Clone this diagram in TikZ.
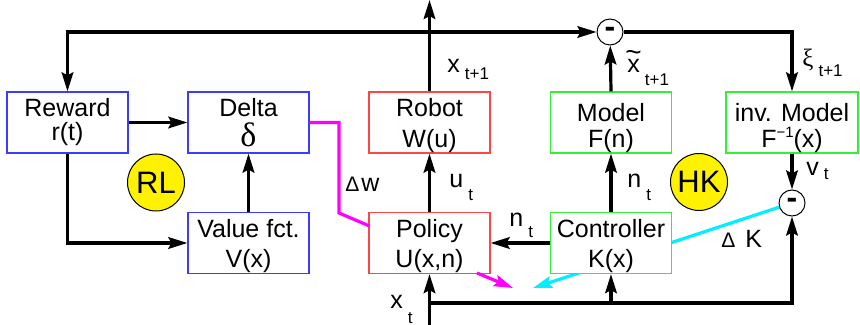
\documentclass[tikz,border=0pt]{standalone}
\usepackage{fontspec}
\setmainfont{Liberation Sans}
\newfontfamily\grk{Liberation Serif}
\usetikzlibrary{arrows.meta,backgrounds}
\definecolor{bxblue}{RGB}{60,60,255}
\definecolor{bxred}{RGB}{255,70,70}
\definecolor{bxgreen}{RGB}{50,240,50}
\definecolor{mag}{RGB}{255,0,255}
\definecolor{cya}{RGB}{0,240,255}
\newcommand\bt[4]{\vbox to 30.5pt{\offinterlineskip\halign{\hfil##\hfil\cr\rule{0pt}{#1}\smash{#3}\cr\rule{0pt}{\dimexpr#2-#1\relax}\smash{#4}\cr}\vss}}
\newcommand\sbs[2]{\hspace{2.5pt}\raisebox{-#1}{\fontsize{8.5}{8.5}\selectfont #2}}
\newcommand\smallD{{\fontsize{10.5}{10.5}\selectfont Δ}}
\newcommand\tildex{{\ooalign{x\cr\hidewidth\raisebox{5.5pt}{\fontsize{14}{14}\selectfont\~{}}\hidewidth\cr}}}
\tikzset{
 box/.style={draw, line width=0.6pt, fill=white, minimum width=60.5pt, minimum height=30.5pt, inner sep=0pt, font=\fontsize{12.5}{12.5}\selectfont},
 conn/.style={line width=1.6pt, -{Stealth[length=9.5pt,width=5.8pt,inset=1.5pt]}},
 wire/.style={line width=1.6pt},
 lbl/.style={inner sep=0pt, anchor=base west, font=\fontsize{12.5}{12.5}\selectfont},
 sumnode/.style={circle, draw, line width=0.5pt, fill=white, minimum size=13pt, inner sep=0pt, font=\fontsize{16}{16}\selectfont\bfseries},
 badge/.style={circle, draw, line width=0.5pt, fill=yellow, minimum size=28.5pt, inner sep=0pt, font=\fontsize{15.5}{15.5}\selectfont},
}
\begin{document}
\begin{tikzpicture}[x=0.5pt,y=-0.5pt]
\useasboundingbox (0,0) rectangle (860,325);
% boxes
\node[box, draw=bxblue] (reward) at (67.5,122.5) {\bt{12.5pt}{24.5pt}{Reward}{r(t)}};
\node[box, draw=bxblue] (delta) at (248.5,122.5) {\bt{12.5pt}{27.5pt}{Delta}{{\grk\fontsize{17}{17}\selectfont δ}}};
\node[box, draw=bxred] (robot) at (429.5,122.5) {\bt{12.5pt}{28pt}{Robot}{W(u)}};
\node[box, draw=bxgreen] (model) at (611,122.5) {\bt{15pt}{28pt}{Model}{F(n)}};
\node[box, draw=bxgreen, minimum width=66pt] (invm) at (792,122.5) {\bt{15pt}{28pt}{inv. Model}{F\raisebox{5pt}{\fontsize{7.5}{7.5}\selectfont −1}(x)}};
\node[box, draw=bxblue] (value) at (248.5,243) {\bt{12.5pt}{27.5pt}{Value fct.}{V(x)}};
\node[box, draw=bxred] (policy) at (429.5,243) {\bt{12.5pt}{27.5pt}{Policy}{U(x,n)}};
\node[box, draw=bxgreen] (controller) at (611,243) {\bt{12.5pt}{27.5pt}{Controller}{K(x)}};
% circles
\node[sumnode] (s1) at (610,32) {\raisebox{-1pt}{-}};
\node[sumnode] (s2) at (792,203) {\raisebox{-1pt}{-}};
\node[badge] (rl) at (156,182.5) {RL};
\node[badge] (hk) at (699,182) {HK};
% coordinates
\coordinate (xout) at (429.5,0);
\coordinate (jtop) at (429.5,32);
\coordinate (xin) at (429.5,325);
\coordinate (jbot) at (429.5,303);
\coordinate (jctl) at (611,303);
\coordinate (m1) at (339,213);
\coordinate (m2) at (369.5,226);
\coordinate (mstart) at (477,273);
\coordinate (mtip) at (513,288);
\coordinate (ctip) at (533,288);
% connectors
\draw[conn] (robot.north) -- (xout);
\draw[conn] (jtop) -| (reward.north);
\draw[conn] (jtop) -- (s1);
\draw[conn] (model.north) -- (s1);
\draw[conn] (s1) -| (invm.north);
\draw[conn] (invm.south) -- (s2);
\draw[conn] (reward.east) -- (delta.west);
\draw[conn] (reward.south) |- (value.west);
\draw[conn] (value.north) -- (delta.south);
\draw[conn] (policy.north) -- (robot.south);
\draw[conn] (controller.north) -- (model.south);
\draw[conn] (controller.west) -- (policy.east);
\draw[conn] (xin) -- (policy.south);
\draw[conn] (jbot) -| (s2.south);
\draw[conn] (jctl) -- (controller.south);
\draw[wire, mag] (delta.east) -| (m1) -- (m2);
\draw[conn, mag] (mstart) -- (mtip);
\begin{pgfonlayer}{background}
\draw[conn, cya] (s2) -- (ctip);
\end{pgfonlayer}
% labels
\node[lbl] (lx1) at (447,73) {x\sbs{3.5pt}{t+1}};
\node[lbl] (lxt) at (627,73) {\tildex\sbs{6.5pt}{t+1}};
\node[lbl] (lxi) at (802,67) {{\grk ξ}\sbs{5pt}{t+1}};
\node[lbl] (lu) at (449,188) {u\sbs{6.5pt}{t}};
\node[lbl] (ln1) at (627,188) {n\sbs{6.5pt}{t}};
\node[lbl] (ln2) at (509,227) {n\sbs{5.5pt}{t}};
\node[lbl] (lv) at (806,176) {v\sbs{2pt}{t}};
\node[lbl] (lx) at (390,308) {x\sbs{7.5pt}{t}};
\node[lbl] (ldw) at (345,192) {\smallD\hspace{1pt}w};
\node[lbl] (ldk) at (721,248) {\smallD\hspace{5pt}K};
\end{tikzpicture}
\end{document}
